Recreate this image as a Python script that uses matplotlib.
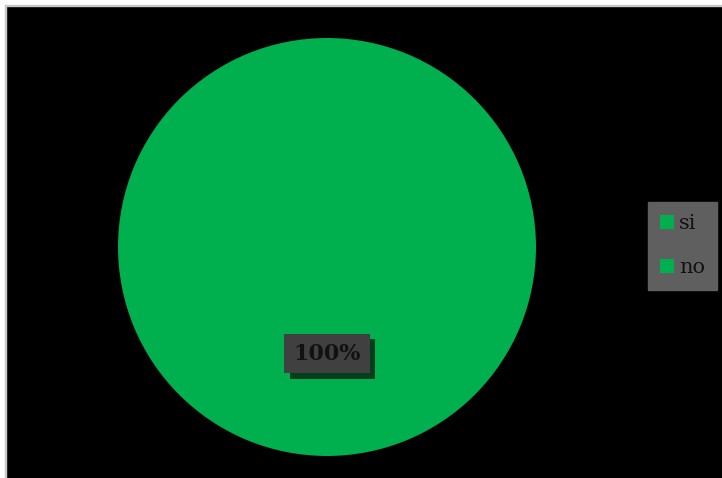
import matplotlib.pyplot as plt
import matplotlib.patheffects as pe
import numpy as np

plt.rc('font', family=['DejaVu Serif'])

labels = ['si', 'no']
values = [100, 0]
colors = ['#00b04f', '#00b04f']

fig = plt.figure(figsize=(7.22, 4.78), dpi=100, facecolor='white')

# black plot area with a thin grey frame on top/left
bg = fig.add_axes([6 / 722, 0, 716 / 722, 472 / 478])
bg.set_facecolor('black')
bg.set_xticks([])
bg.set_yticks([])
for s in bg.spines.values():
    s.set_visible(False)
fig.patches.append(plt.Rectangle((5 / 722, 0), 1 / 722, 473 / 478, transform=fig.transFigure,
                                 color='#c8c8c8', zorder=0))
fig.patches.append(plt.Rectangle((5 / 722, 472 / 478), 717 / 722, 1.5 / 478, transform=fig.transFigure,
                                 color='#c8c8c8', zorder=0))

ax = fig.add_axes([118 / 722, 22 / 478, 418 / 722, 418 / 478])
ax.set_facecolor('none')
wedges, _ = ax.pie(values, colors=colors, startangle=90, counterclock=False,
                   radius=1.0, wedgeprops=dict(linewidth=0))
ax.set_xlim(-1, 1)
ax.set_ylim(-1, 1)
ax.set_aspect('equal')

total = sum(values)
for w, v in zip(wedges, values):
    if v == 0:
        continue
    ang = np.deg2rad((w.theta1 + w.theta2) / 2)
    x, y = 0.5 * np.cos(ang), 0.5 * np.sin(ang)
    t = ax.text(x, y - 0.01, f'{v / total * 100:.0f}%', ha='center', va='center',
                fontsize=16, fontweight='bold', color='#111111',
                bbox=dict(boxstyle='square,pad=0.4', facecolor='#404040', edgecolor='none'))
    # soft drop shadow under the label box
    t.get_bbox_patch().set_path_effects([
        pe.SimplePatchShadow(offset=(4, -4), shadow_rgbFace='#062a14', alpha=0.85),
        pe.Normal()])

leg = fig.legend(wedges, labels, loc='center', bbox_to_anchor=(682.5 / 722, 1 - 245.5 / 478),
                 frameon=True, fancybox=False, facecolor='#5f5f5f', edgecolor='#5f5f5f',
                 framealpha=1, fontsize=15, handlelength=0.65, handleheight=0.65,
                 handletextpad=0.25, labelspacing=1.2, borderpad=0.6, borderaxespad=0)
for txt in leg.get_texts():
    txt.set_color('#111111')

fig.savefig('out.png', dpi=100, facecolor='white')
